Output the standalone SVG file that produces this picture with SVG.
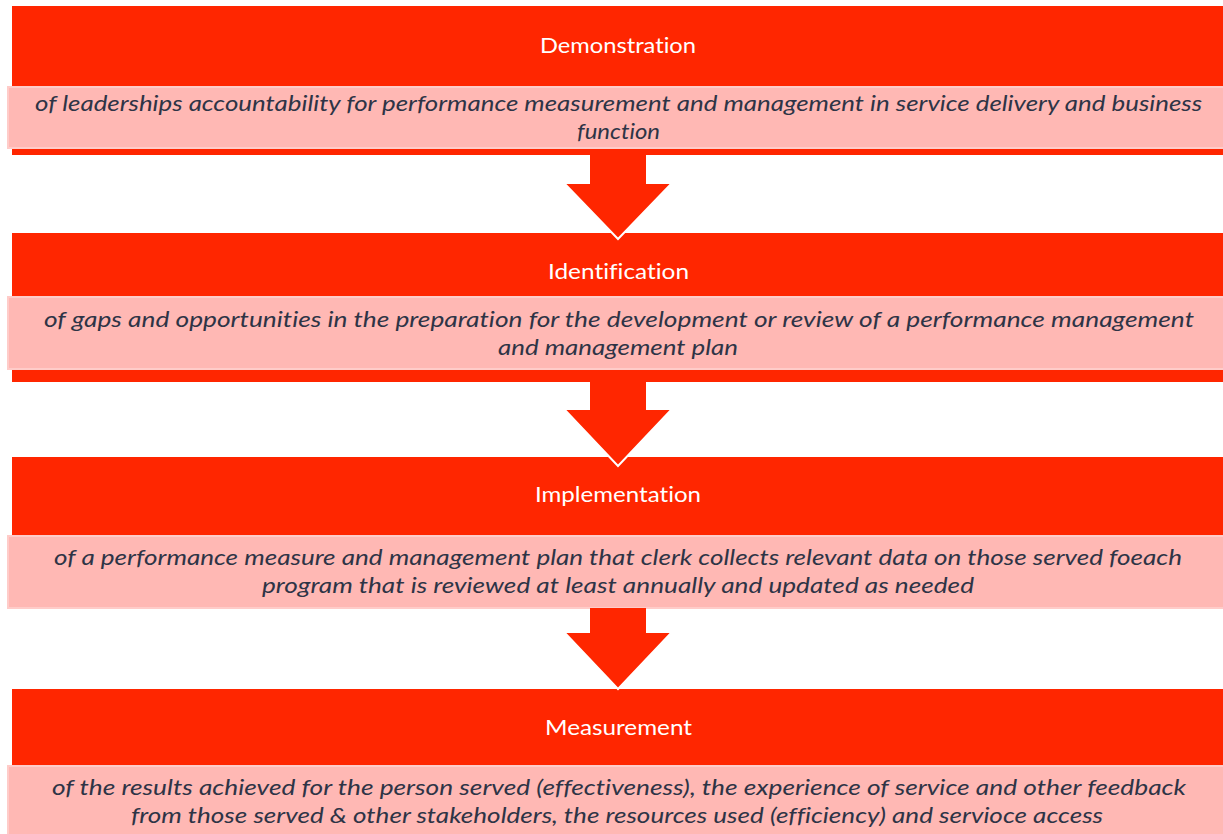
<svg xmlns="http://www.w3.org/2000/svg" width="1223" height="834" viewBox="0 0 1223 834">
  <style>
    .bar { fill: #FF2600; }
    .band { fill: #FFB8B4; stroke: #FFCCC9; stroke-width: 2; }
    .title { font-family: Lato, "Open Sans", sans-serif; font-size: 21px; fill: #FFFFFF; text-anchor: middle; font-variant-ligatures: none; }
    .desc { font-family: Lato, "Open Sans", sans-serif; font-size: 21px; font-style: italic; fill: #2E3446; text-anchor: middle; font-variant-ligatures: none; }
    .arrow { fill: #FF2600; }
    .edge { fill: none; stroke: #FFFFFF; stroke-width: 2; stroke-linejoin: miter; }
  </style>
  <rect width="1223" height="834" fill="#FFFFFF"/>

  <g id="demonstration">
    <rect class="bar" x="12" y="6" width="1220" height="149"/>
    <rect class="band" x="8" y="87" width="1224" height="61"/>
    <text class="title" x="618" y="53" textLength="156" lengthAdjust="spacingAndGlyphs">Demonstration</text>
    <text class="desc" x="618.5" y="111" textLength="1167" lengthAdjust="spacingAndGlyphs">of leaderships accountability for performance measurement and management in service delivery and business</text>
    <text class="desc" x="618.5" y="139" textLength="83" lengthAdjust="spacingAndGlyphs">function</text>
  </g>

  <g id="identification">
    <rect class="bar" x="12" y="233" width="1220" height="149"/>
    <rect class="band" x="8" y="297" width="1224" height="72"/>
    <text class="title" x="618.5" y="279" textLength="141" lengthAdjust="spacingAndGlyphs">Identification</text>
    <text class="desc" x="619" y="327" textLength="1150" lengthAdjust="spacingAndGlyphs">of gaps and opportunities in the preparation for the development or review of a performance management</text>
    <text class="desc" x="618" y="355" textLength="240" lengthAdjust="spacingAndGlyphs">and management plan</text>
  </g>

  <g id="implementation">
    <rect class="bar" x="12" y="457" width="1220" height="151"/>
    <rect class="band" x="8" y="536" width="1224" height="72"/>
    <text class="title" x="618" y="502" textLength="166" lengthAdjust="spacingAndGlyphs">Implementation</text>
    <text class="desc" x="618" y="565" textLength="1128" lengthAdjust="spacingAndGlyphs">of a performance measure and management plan that clerk collects relevant data on those served foeach</text>
    <text class="desc" x="618" y="593" textLength="712" lengthAdjust="spacingAndGlyphs">program that is reviewed at least annually and updated as needed</text>
  </g>

  <g id="measurement">
    <rect class="bar" x="12" y="689" width="1220" height="150"/>
    <rect class="band" x="8" y="766" width="1224" height="72"/>
    <text class="title" x="618.5" y="735" textLength="147" lengthAdjust="spacingAndGlyphs">Measurement</text>
    <text class="desc" x="619" y="795" textLength="1134" lengthAdjust="spacingAndGlyphs">of the results achieved for the person served (effectiveness), the experience of service and other feedback</text>
    <text class="desc" x="617" y="823" textLength="972" lengthAdjust="spacingAndGlyphs">from those served &amp; other stakeholders, the resources used (efficiency) and servioce access</text>
  </g>

  <g id="connectors">
    <!-- block arrows between stages: filled body plus a white rim on the head -->
    <g id="arrow-1">
      <polygon class="arrow" points="590,155 646,155 646,183 672,183 618,239 564,183 590,183"/>
      <polyline class="edge" points="646,183 672,183 618,239 564,183 590,183"/>
    </g>
    <g id="arrow-2">
      <polygon class="arrow" points="590,382 646,382 646,409 672,409 618,466 564,409 590,409"/>
      <polyline class="edge" points="646,409 672,409 618,466 564,409 590,409"/>
    </g>
    <g id="arrow-3">
      <polygon class="arrow" points="590,608 646,608 646,632 672,632 618,689 564,632 590,632"/>
      <polyline class="edge" points="646,632 672,632 618,689 564,632 590,632"/>
    </g>
  </g>
</svg>
